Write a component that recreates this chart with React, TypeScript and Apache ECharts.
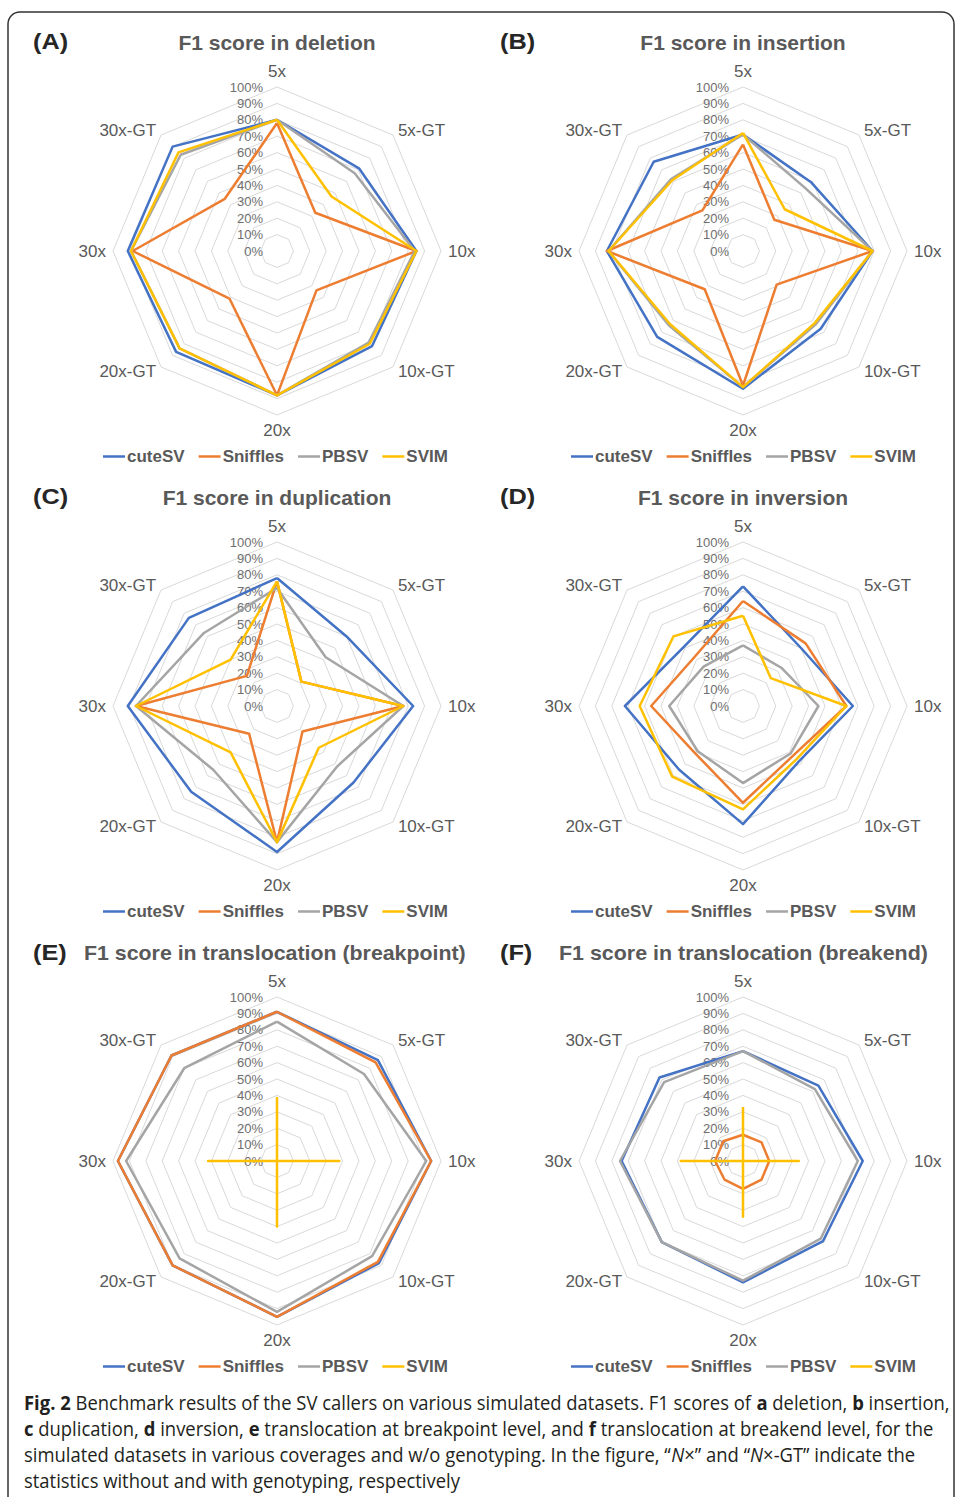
import React, { useEffect, useRef } from 'react';
import * as echarts from 'echarts';

// Axis categories in clockwise order starting at the top
const axes = ['5x', '5x-GT', '10x', '10x-GT', '20x', '20x-GT', '30x', '30x-GT'];
const callers = ['cuteSV', 'Sniffles', 'PBSV', 'SVIM'];
const colors = ['#4472C4', '#ED7D31', '#A5A5A5', '#FFC000'];

// F1 scores (%), rows = callers (cuteSV, Sniffles, PBSV, SVIM), columns = axes
const deletion = [
  [80, 71, 85, 82, 88, 87, 91, 90],
  [78, 33, 85, 34, 88, 41, 88, 45],
  [80, 67, 84, 79, 88, 84, 89, 83],
  [80, 47, 85, 80, 88, 84, 89, 85],
];
const insertion = [
  [71, 59, 79, 67, 84, 74, 83, 77],
  [65, 27, 79, 29, 82, 33, 83, 35],
  [71, 54, 79, 63, 83, 64, 82, 62],
  [72, 36, 79, 62, 83, 63, 82, 61],
];
const duplication = [
  [78, 60, 83, 66, 89, 74, 91, 76],
  [76, 21, 77, 22, 83, 24, 86, 26],
  [72, 42, 77, 52, 83, 55, 86, 63],
  [76, 21, 77, 36, 83, 40, 86, 40],
];
const inversion = [
  [73, 50, 67, 48, 72, 55, 72, 51],
  [64, 54, 63, 43, 59, 41, 56, 42],
  [37, 33, 46, 41, 47, 39, 45, 34],
  [55, 24, 63, 46, 63, 61, 63, 60],
];
const breakpoint = [
  [91, 87, 94, 88, 95, 90, 97, 91],
  [91, 85, 94, 87, 95, 90, 97, 91],
  [85, 75, 91, 82, 92, 84, 92, 80],
  [39, 0, 38, 0, 40, 0, 42, 0],
];
const breakend = [
  [67, 65, 73, 69, 74, 70, 74, 72],
  [16, 16, 16, 16, 17, 16, 17, 17],
  [67, 62, 70, 67, 73, 70, 75, 68],
  [33, 0, 34, 0, 34, 0, 38, 0],
];

const panelLetters = ['(A)', '(B)', '(C)', '(D)', '(E)', '(F)'];
const panelTitles = [
  'F1 score in deletion',
  'F1 score in insertion',
  'F1 score in duplication',
  'F1 score in inversion',
  'F1 score in translocation (breakpoint)',
  'F1 score in translocation (breakend)',
];
const panelData = [deletion, insertion, duplication, inversion, breakpoint, breakend];

const captionLines: [string, string][][] = [
  [['Fig. 2', 'b'], [' Benchmark results of the SV callers on various simulated datasets. F1 scores of ', ''], ['a', 'b'], [' deletion, ', ''], ['b', 'b'], [' insertion,', '']],
  [['c', 'b'], [' duplication, ', ''], ['d', 'b'], [' inversion, ', ''], ['e', 'b'], [' translocation at breakpoint level, and ', ''], ['f', 'b'], [' translocation at breakend level, for the', '']],
  [['simulated datasets in various coverages and w/o genotyping. In the figure, \u201c', ''], ['N', 'i'], ['\u00d7\u201d and \u201c', ''], ['N', 'i'], ['\u00d7-GT\u201d indicate the', '']],
  [['statistics without and with genotyping, respectively', '']],
];

const FONT = '"Liberation Sans", Arial, sans-serif';
const CAP_FONT = '"Open Sans", "Liberation Sans", sans-serif';

function measure(segs: [string, string][], size: number, family: string, weight = 'normal') {
  const ctx = document.createElement('canvas').getContext('2d')!;
  let w = 0;
  for (const [t, s] of segs) {
    const wt = s === 'b' ? 'bold' : weight;
    const st = s === 'i' ? 'italic ' : '';
    ctx.font = `${st}${wt} ${size}px ${family}`;
    w += ctx.measureText(t).width;
  }
  return w;
}

export default function App() {
  const ref = useRef<HTMLDivElement>(null);
  useEffect(() => {
    if (!ref.current) return;
    const chart = echarts.init(ref.current, undefined, { renderer: 'svg' });
    const order = [0, 7, 6, 5, 4, 3, 2, 1]; // counter-clockwise order for ECharts
    const colX = [277, 743];
    const rowY = [251, 706, 1161];
    const radars: any[] = [];
    const series: any[] = [];
    const legends: any[] = [];
    const graphics: any[] = [];

    graphics.push({
      type: 'rect',
      shape: { x: 8, y: 12, width: 946, height: 1520, r: 12 },
      style: { fill: 'none', stroke: '#333', lineWidth: 1.5 },
      silent: true,
    });

    panelData.forEach((rows, p) => {
      const col = p % 2;
      const row = Math.floor(p / 2);
      const cx = colX[col];
      const cy = rowY[row];
      radars.push({
        center: [cx, cy],
        radius: 164,
        startAngle: 90,
        shape: 'polygon',
        splitNumber: 10,
        nameGap: 7,
        axisName: { color: '#595959', fontSize: 17, fontFamily: FONT },
        splitLine: { lineStyle: { color: '#D9D9D9', width: 1 } },
        splitArea: { show: false },
        axisLine: { show: false },
        axisTick: { show: false },
        axisLabel: { show: false },
        indicator: order.map((k, j) => ({
          name: axes[k],
          min: 0,
          max: 100,
          axisLabel: j === 0
            ? { show: true, formatter: '{value}%', color: '#6f6f6f', fontSize: 13, fontFamily: FONT, margin: 14 }
            : { show: false },
        })),
      });
      rows.forEach((vals, s) => {
        series.push({
          type: 'radar',
          name: callers[s],
          radarIndex: p,
          symbol: 'none',
          silent: true,
          itemStyle: { color: colors[s] },
          lineStyle: { color: colors[s], width: 2.5 },
          data: [{ name: callers[s], value: order.map((k) => vals[k]) }],
        });
      });
      legends.push({
        data: callers,
        left: col === 0 ? 98 : 566,
        top: rowY[row] + 192,
        icon: 'rect',
        itemWidth: 22,
        itemHeight: 2.5,
        itemGap: 14,
        selectedMode: false,
        textStyle: { fontSize: 17, fontWeight: 'bold', color: '#595959', fontFamily: FONT, padding: [0, 0, 0, -3] },
      });
      // panel letter
      const titleY = [42, 497, 953][row];
      graphics.push({
        type: 'text',
        x: col === 0 ? 33 : 500,
        y: titleY,
        style: {
          text: panelLetters[p],
          font: `bold 22px ${FONT}`,
          fill: '#262626',
          verticalAlign: 'middle',
        },
        scaleX: 1.15,
      });
      if (row < 2) {
        graphics.push({
          type: 'text',
          x: cx,
          y: titleY,
          style: {
            text: panelTitles[p],
            font: `bold 21px ${FONT}`,
            fill: '#595959',
            align: 'center',
            verticalAlign: 'middle',
          },
        });
      } else {
        const left = col === 0 ? 84 : 559;
        const target = col === 0 ? 382 : 369;
        const w = measure([[panelTitles[p], 'b']], 21, FONT);
        graphics.push({
          type: 'text',
          x: left,
          y: titleY,
          scaleX: target / w,
          style: {
            text: panelTitles[p],
            font: `bold 21px ${FONT}`,
            fill: '#595959',
            align: 'left',
            verticalAlign: 'middle',
          },
        });
      }
    });

    // caption
    const capSize = 20;
    const w1 = measure(captionLines[0], capSize, CAP_FONT);
    const capScale = 926 / w1;
    const capY = [1402, 1428, 1454, 1480];
    captionLines.forEach((segs, i) => {
      const text = segs.map(([t, s]) => (s ? `{${s}|${t}}` : t)).join('');
      graphics.push({
        type: 'text',
        x: 24,
        y: capY[i],
        scaleX: capScale,
        style: {
          text,
          font: `${capSize}px ${CAP_FONT}`,
          fill: '#231f20',
          align: 'left',
          verticalAlign: 'middle',
          rich: {
            b: { fontWeight: 'bold', fontSize: capSize, fontFamily: CAP_FONT, fill: '#231f20' },
            i: { fontStyle: 'italic', fontSize: capSize, fontFamily: CAP_FONT, fill: '#231f20' },
          },
        },
      });
    });

    chart.setOption({
      animation: false,
      backgroundColor: '#ffffff',
      radar: radars,
      legend: legends,
      series,
      graphic: graphics,
    });
    return () => chart.dispose();
  }, []);
  return (
    <div
      ref={ref}
      style={{ position: 'absolute', left: 0, top: 0, width: 956, height: 1497, background: '#fff' }}
    />
  );
}
